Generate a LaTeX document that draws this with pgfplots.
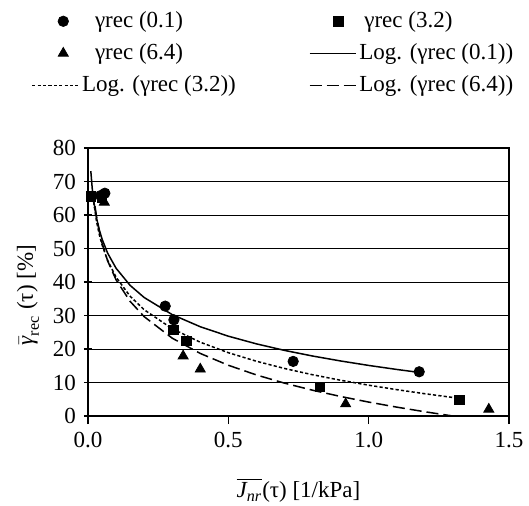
\documentclass[border=0pt]{standalone}
\usepackage{fontspec}
\setmainfont{Liberation Serif}
\usepackage{amsmath}
\usepackage{pgfplots}
\pgfplotsset{compat=1.18}
\pgfplotsset{markleg/.style={legend image code/.code={\path[draw=none] (0pt,0pt) -- (23pt,0pt); \draw[##1] plot coordinates {(#1,0pt)};}}}
\begin{document}
\fontsize{11.5}{13.8}\selectfont
\begin{tikzpicture}
\begin{axis}[
  at={(0,0)}, anchor=south west,
  scale only axis, width=210.5pt, height=134pt,
  xmin=0, xmax=1.5, ymin=0, ymax=80,
  xtick={0,0.5,1,1.5}, ytick={0,10,...,80},
  xticklabel style={/pgf/number format/.cd, fixed, fixed zerofill, precision=1},
  /pgf/number format/assume math mode=true,
  xtick pos=bottom, ytick pos=left,
  xtick align=outside, ytick align=center, major tick length=4pt,
  tick style={black, line width=0.6pt},
  ymajorgrids, grid style={black, line width=0.5pt},
  axis line style={line width=0.6pt},
  clip=true,
  xlabel={$\overline{\text{\itshape J}_{\text{\itshape nr}}}$(τ) [1/kPa]},
  xlabel style={at={(axis description cs:0.5,-0.276)}, anchor=center},
  ylabel={$\bar{\text{\itshape γ}}_{\text{rec}}$ (τ) [\%]},
  ylabel style={at={(axis description cs:-0.1425,0.4515)}, anchor=center},
  legend columns=2,
  legend cell align=left,
  legend image code/.code={\draw[mark repeat=2,mark phase=2,#1] plot coordinates {(0pt,0pt) (11.5pt,0pt) (23pt,0pt)};},
  legend style={draw=none, fill=none, at={(axis description cs:0.4415,1.549)}, anchor=north,
    row sep=0pt, /tikz/every even column/.append style={column sep=35pt},
    nodes={inner sep=1.5pt, text height=9pt, text depth=3pt, minimum height=16pt}},
]
\addplot[only marks, mark=*, mark size=2.6pt, black, markleg=15.5pt] coordinates {
 (0.045,65.8) (0.06,66.5) (0.275,32.8) (0.306,28.7) (0.731,16.3) (1.18,13.2)};
\addlegendentry{\hspace{6.5pt}γrec (0.1)}
\addplot[only marks, mark=square*, mark size=2.4pt, black, markleg=14.5pt] coordinates {
 (0.011,65.5) (0.05,65.2) (0.304,25.7) (0.351,22.4) (0.826,8.7) (1.324,4.8)};
\addlegendentry{\hspace{2.5pt}γrec (3.2)}
\addplot[only marks, mark=triangle*, mark size=2.9pt, black, markleg=15.5pt] coordinates {
 (0.058,63.8) (0.339,17.9) (0.40,14.0) (0.918,3.6) (1.428,2.0)};
\addlegendentry{\hspace{6.5pt}γrec (6.4)}
\addplot[black, line width=0.75pt, no marks] coordinates {
 (0.01,73.12) (0.015,68.02) (0.02,64.39) (0.03,59.28) (0.04,55.66) (0.05,52.85)
 (0.07,48.61) (0.1,44.11) (0.15,39.00) (0.2,35.38) (0.3,30.27) (0.4,26.65)
 (0.5,23.83) (0.6,21.54) (0.7,19.59) (0.8,17.91) (0.9,16.43) (1.0,15.10)
 (1.1,13.90) (1.18,13.01)};
\addlegendentry{Log. (γrec (0.1))}
\addplot[black, line width=0.75pt, no marks, dash pattern=on 1.6pt off 1.1pt] coordinates {
 (0.02,63.97) (0.03,58.29) (0.04,54.26) (0.05,51.14) (0.07,46.43) (0.1,41.44)
 (0.15,35.76) (0.2,31.73) (0.3,26.06) (0.4,22.03) (0.5,18.90) (0.6,16.35)
 (0.7,14.19) (0.8,12.32) (0.9,10.68) (1.0,9.20) (1.1,7.87) (1.2,6.65) (1.324,5.27)};
\addlegendentry{Log. (γrec (3.2))}
\addplot[black, line width=0.75pt, no marks, dash pattern=on 6pt off 2.5pt] coordinates {
 (0.025,62.6) (0.03,59.74) (0.04,55.18) (0.05,51.64) (0.07,46.31) (0.1,40.66)
 (0.15,34.23) (0.2,29.67) (0.3,23.24) (0.4,18.68) (0.5,15.15) (0.6,12.26)
 (0.7,9.81) (0.8,7.70) (0.9,5.83) (1.0,4.16) (1.1,2.65) (1.2,1.27) (1.3,0.00) (1.43,-1.51)};
\addlegendentry{Log. (γrec (6.4))}
\end{axis}
\pgfresetboundingbox
\path[use as bounding box] (-44pt,-44.5pt) rectangle (220.5pt,208pt);
\end{tikzpicture}
\end{document}
